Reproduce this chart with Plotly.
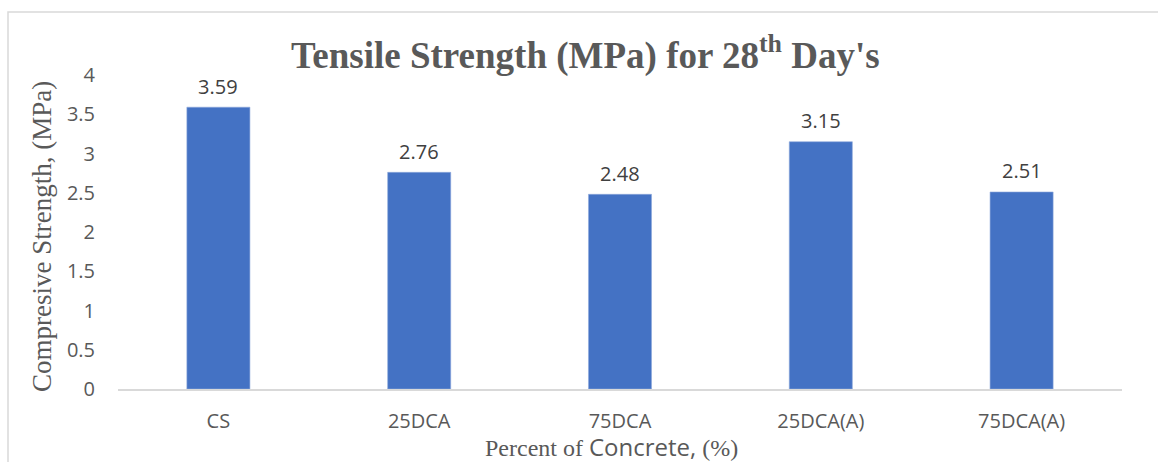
import plotly.graph_objects as go

categories = ["CS", "25DCA", "75DCA", "25DCA(A)", "75DCA(A)"]
values = [3.59, 2.76, 2.48, 3.15, 2.51]
y_ticks = [0, 0.5, 1, 1.5, 2, 2.5, 3, 3.5, 4]
y_tick_labels = ["0", "0.5", "1", "1.5", "2", "2.5", "3", "3.5", "4"]

W, H = 1158, 462
L, R, T, B = 118, 36, 75, 73
pw, ph = W - L - R, H - T - B

def px_x(p):
    return (p - L) / pw

def px_y(p):
    return (H - B - p) / ph

sans = "Open Sans"
serif = "Liberation Serif"
gray = "#595959"

fig = go.Figure()
fig.add_trace(go.Bar(
    x=categories, y=values,
    marker=dict(color="#4472C4", line=dict(color="#8FAADC", width=0.6)),
    hoverinfo="x+y",
))

annotations = []
for c, v in zip(categories, values):
    annotations.append(dict(
        x=c, y=v, xref="x", yref="y", text=f"{v:.2f}", showarrow=False,
        yshift=21, font=dict(family=sans, size=20, color="#404040"),
    ))

annotations.append(dict(
    x=px_x(585), y=px_y(53), xref="paper", yref="paper",
    text="<b>Tensile Strength (MPa) for 28<sup>th</sup> Day's</b>",
    showarrow=False, font=dict(family=serif, size=37, color=gray),
    xanchor="center", yanchor="middle",
))
annotations.append(dict(
    x=px_x(42), y=px_y(237), xref="paper", yref="paper",
    text="Compresive Strength, (MPa)", textangle=-90,
    showarrow=False, font=dict(family=serif, size=27, color=gray),
    xanchor="center", yanchor="middle",
))
annotations.append(dict(
    x=px_x(611), y=px_y(446), xref="paper", yref="paper",
    text=("Percent of <span style=\"font-family:'Open Sans'\">Concrete,</span> (%)"),
    showarrow=False, font=dict(family=serif, size=24, color=gray),
    xanchor="center", yanchor="middle",
))

fig.update_layout(
    width=W, height=H,
    margin=dict(l=L, r=R, t=T, b=B, pad=0),
    paper_bgcolor="white", plot_bgcolor="white",
    bargap=0.686,
    showlegend=False,
    annotations=annotations,
    shapes=[dict(
        type="rect", xref="paper", yref="paper",
        x0=px_x(8), x1=px_x(1200), y0=px_y(500), y1=px_y(12),
        line=dict(color="#D9D9D9", width=1.5), fillcolor="rgba(0,0,0,0)",
        layer="below",
    )],
    xaxis=dict(
        showgrid=False, showline=True, linecolor="#D9D9D9", linewidth=2,
        ticks="outside", ticklen=13, tickcolor="rgba(0,0,0,0)",
        tickfont=dict(family=sans, size=20, color=gray),
        zeroline=False,
    ),
    yaxis=dict(
        range=[0, 4], tickvals=y_ticks, ticktext=y_tick_labels,
        showgrid=False, showline=False, zeroline=False,
        ticks="outside", ticklen=18, tickcolor="rgba(0,0,0,0)",
        tickfont=dict(family=sans, size=20, color=gray),
    ),
)

fig.write_html("out.html")
